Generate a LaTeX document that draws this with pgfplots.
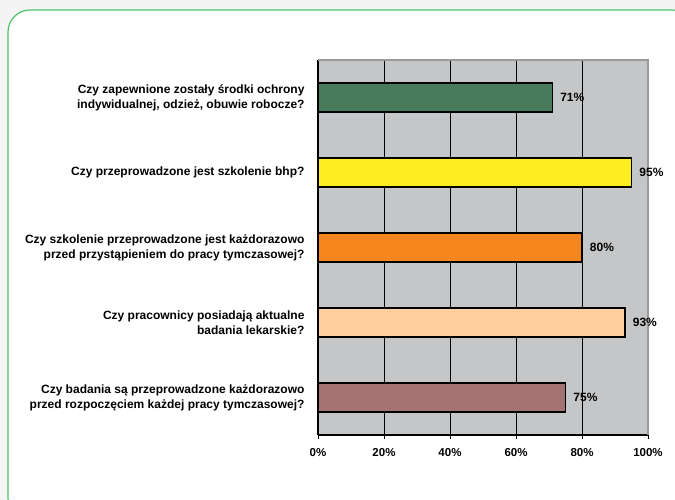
\documentclass[border=0pt]{standalone}
\usepackage{pgfplots}
\pgfplotsset{compat=1.18}
\usepackage{fontspec}
\setmainfont{Liberation Sans}
\definecolor{bgout}{HTML}{F4F4F4}
\definecolor{frameg}{HTML}{4DC46C}
\definecolor{plotbg}{HTML}{C5C6C8}
\definecolor{c1}{HTML}{4A7A5C}
\definecolor{c2}{HTML}{FCEE21}
\definecolor{c3}{HTML}{F7861F}
\definecolor{c4}{HTML}{FFCF9C}
\definecolor{c5}{HTML}{A37373}
\definecolor{bord}{HTML}{9A9A9A}
\begin{document}
\begin{tikzpicture}[x=1bp,y=1bp]
\path[use as bounding box, fill=bgout] (0,0) rectangle (675,500);
\draw[frameg, line width=1.2bp, fill=white, rounded corners=22bp] (8,490) rectangle (695,-20);
\begin{axis}[
  at={(318bp,65bp)}, anchor=south west,
  scale only axis, width=330bp, height=375bp,
  xmin=0, xmax=100, ymin=-0.5, ymax=4.5, y dir=reverse,
  axis background/.style={fill=plotbg},
  axis x line*=bottom, axis y line*=left,
  axis line style={black, line width=1.5bp, -},
  xtick={0,20,40,60,80,100},
  xticklabels={0\%,20\%,40\%,60\%,80\%,100\%},
  xmajorgrids, grid style={black, line width=1bp},
  xtick style={black, line width=1bp},
  major tick length=4bp, tick align=outside,
  xticklabel style={font=\fontsize{11.5bp}{13bp}\selectfont\bfseries, yshift=-6bp},
  ytick={0,1,2,3,4},
  ytick style={draw=none},
  minor ytick={-0.5,0.5,1.5,2.5,3.5,4.5},
  minor y tick style={black, line width=1bp},
  minor tick length=4bp,
  yticklabels={
    {Czy zapewnione zostały środki ochrony\\indywidualnej, odzież, obuwie robocze?},
    {Czy przeprowadzone jest szkolenie bhp?},
    {Czy szkolenie przeprowadzone jest każdorazowo\\przed przystąpieniem do pracy tymczasowej?},
    {Czy pracownicy posiadają aktualne\\badania lekarskie?},
    {Czy badania są przeprowadzone każdorazowo\\przed rozpoczęciem każdej pracy tymczasowej?}},
  yticklabel style={font=\fontsize{12bp}{15bp}\selectfont\bfseries, align=right, xshift=-6bp},
  xbar, bar width=0.39, bar shift=0pt,
  nodes near coords={\pgfmathprintnumber[assume math mode=true]{\pgfplotspointmeta}\%},
  point meta=x,
  every node near coord/.append style={font=\fontsize{12bp}{13bp}\selectfont\bfseries, anchor=west, xshift=4bp},
  clip=false,
]
\addplot[draw=black, line width=1.3bp, fill=c1] coordinates {(71,0)};
\addplot[draw=black, line width=1.3bp, fill=c2] coordinates {(95,1)};
\addplot[draw=black, line width=1.3bp, fill=c3] coordinates {(80,2)};
\addplot[draw=black, line width=1.3bp, fill=c4] coordinates {(93,3)};
\addplot[draw=black, line width=1.3bp, fill=c5] coordinates {(75,4)};
\draw[bord, line width=1.5bp] (axis cs:0,-0.5) -- (axis cs:100,-0.5) -- (axis cs:100,4.5);
\end{axis}
\end{tikzpicture}
\end{document}
